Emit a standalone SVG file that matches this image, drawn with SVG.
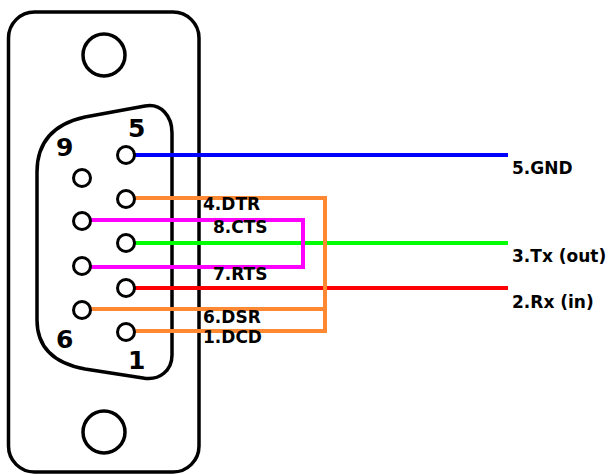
<svg xmlns="http://www.w3.org/2000/svg" width="612" height="474" viewBox="0 0 612 474">
<style>
.ol{fill:none;stroke:#000;stroke-width:3.5}
.pin{fill:#fff;stroke:#000;stroke-width:3}
.w{fill:none;stroke-width:4;stroke-linejoin:miter;stroke-linecap:butt}
.num{font-family:"DejaVu Sans",sans-serif;font-weight:bold;font-size:25px;fill:#000}
.lbl{font-family:"DejaVu Sans",sans-serif;font-weight:bold;font-size:17px;fill:#000}
</style>
<rect width="612" height="474" fill="#fff"/>
<g id="plate">
<rect class="ol" x="8.5" y="12" width="190.5" height="460" rx="26"/>
<circle class="ol" cx="104" cy="55" r="21"/>
<circle class="ol" cx="104" cy="432" r="21"/>
</g>
<g id="shell">
<path class="ol" d="M37 172 C37 138 58 123 85 117 L145 106 C161 103 172 116 172 133 L172 355 C172 370 160 381 143 378 L85 369 C58 364 37 350 37 320 Z"/>
<text class="num" x="128" y="137">5</text>
<text class="num" x="56" y="156">9</text>
<text class="num" x="56" y="348">6</text>
<text class="num" x="128" y="369">1</text>
</g>
<g id="connectors">
<path class="w" stroke="#0000ff" d="M126 155 H508"/>
<path class="w" stroke="#00ff00" d="M126 243 H508"/>
<path class="w" stroke="#ff0000" d="M126 288 H508"/>
<path class="w" stroke="#ff00ff" d="M82 220 H303 V267 H82"/>
<path class="w" stroke="#ff8833" d="M126 198 H325 V331 H126"/>
<path class="w" stroke="#ff8833" d="M82 309 H325"/>
</g>
<g id="pins">
<circle class="pin" cx="126" cy="155" r="8.5"/>
<circle class="pin" cx="126" cy="199" r="8.5"/>
<circle class="pin" cx="126" cy="243" r="8.5"/>
<circle class="pin" cx="126" cy="288" r="8.5"/>
<circle class="pin" cx="126" cy="332" r="8.5"/>
<circle class="pin" cx="82" cy="178" r="8.5"/>
<circle class="pin" cx="82" cy="221" r="8.5"/>
<circle class="pin" cx="82" cy="266" r="8.5"/>
<circle class="pin" cx="82" cy="310" r="8.5"/>
</g>
<g id="labels">
<text class="lbl" x="203" y="210">4.DTR</text>
<text class="lbl" x="213" y="233">8.CTS</text>
<text class="lbl" x="213" y="280">7.RTS</text>
<text class="lbl" x="203" y="323">6.DSR</text>
<text class="lbl" x="203" y="343">1.DCD</text>
<text class="lbl" x="512" y="174">5.GND</text>
<text class="lbl" x="512" y="262">3.Tx (out)</text>
<text class="lbl" x="512" y="308">2.Rx (in)</text>
</g>
</svg>
